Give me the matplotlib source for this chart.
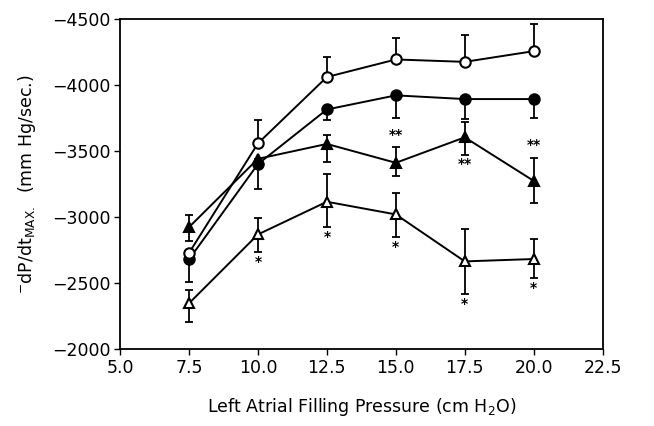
import numpy as np
import matplotlib
matplotlib.use('Agg')
import matplotlib.pyplot as plt
from matplotlib.ticker import FuncFormatter

# left atrial filling pressure (cm H2O)
lap = [7.5, 10.0, 12.5, 15.0, 17.5, 20.0]

# -dP/dt max (mm Hg/sec)
open_circ = [2726, 3557, 4060, 4193, 4175, 4256]
open_circ_hi = [2726, 3738, 4208, 4353, 4378, 4462]

fill_circ = [2678, 3400, 3814, 3921, 3893, 3893]
fill_circ_lo = [2510, 3212, 3735, 3753, 3745, 3753]

fill_tri = [2922, 3440, 3553, 3410, 3603, 3273]
fill_tri_hi = [3014, 3440, 3621, 3527, 3720, 3450]
fill_tri_lo = [2815, 3440, 3418, 3311, 3471, 3108]

open_tri = [2345, 2867, 3115, 3019, 2663, 2681]
open_tri_hi = [2450, 2993, 3326, 3184, 2905, 2829]
open_tri_lo = [2206, 2734, 2922, 2846, 2414, 2536]

# significance marks: (x index, side, text)
fill_tri_marks = [(3, 'hi', '**'), (4, 'lo', '**'), (5, 'hi', '**')]
open_tri_marks = [(1, 'lo', '*'), (2, 'lo', '*'), (3, 'lo', '*'), (4, 'lo', '*'), (5, 'lo', '*')]

plt.rcParams['font.family'] = ['DejaVu Sans']

fig = plt.figure(figsize=(6.54, 4.26), dpi=100)
ax = fig.add_axes([0.1835, 0.181, 0.738, 0.7745])

x = np.array(lap)


def draw(y, lo, hi, marker, face, z):
    y = np.array(y)
    err = np.vstack([y - np.array(lo), np.array(hi) - y])
    ax.errorbar(x, y, yerr=err, fmt='none', ecolor='black', elinewidth=1.3,
                capsize=3, capthick=1.3, zorder=z)
    ax.plot(x, y, '-', color='black', lw=1.4, marker=marker, ms=7.5,
            mfc=face, mec='black', mew=1.5, zorder=z + 1)


draw(open_tri, open_tri_lo, open_tri_hi, '^', 'white', 2)
draw(fill_tri, fill_tri_lo, fill_tri_hi, '^', 'black', 4)
draw(fill_circ, fill_circ_lo, fill_circ, 'o', 'black', 6)
draw(open_circ, open_circ, open_circ_hi, 'o', 'white', 8)


def marks(lst, lo, hi):
    for i, side, s in lst:
        if side == 'hi':
            ax.annotate(s, (x[i], hi[i]), xytext=(0, 4), textcoords='offset points',
                        ha='center', va='bottom', fontsize=10, fontweight='bold')
        else:
            ax.annotate(s, (x[i], lo[i]), xytext=(0, -12), textcoords='offset points',
                        ha='center', va='bottom', fontsize=10, fontweight='bold')


marks(fill_tri_marks, fill_tri_lo, fill_tri_hi)
marks(open_tri_marks, open_tri_lo, open_tri_hi)

ax.set_xlim(5.0, 22.5)
ax.set_ylim(2000, 4500)
ax.set_xticks(np.arange(5.0, 22.6, 2.5))
ax.set_yticks(np.arange(2000, 4501, 500))
ax.xaxis.set_major_formatter(FuncFormatter(lambda v, p: '%.1f' % v))
ax.yaxis.set_major_formatter(FuncFormatter(lambda v, p: '\u2212%d' % v))
ax.tick_params(direction='out', length=4, width=1, labelsize=12.5, pad=3)
for sp in ax.spines.values():
    sp.set_linewidth(1.3)

ax.set_xlabel('Left Atrial Filling Pressure (cm H$_2$O)', fontsize=12.5, labelpad=14)
ax.set_ylabel(r'$^{-}$dP/dt$_{\mathrm{MAX.}}$  (mm Hg/sec.)', fontsize=12.5, labelpad=10)

fig.savefig('out.png', dpi=100)
